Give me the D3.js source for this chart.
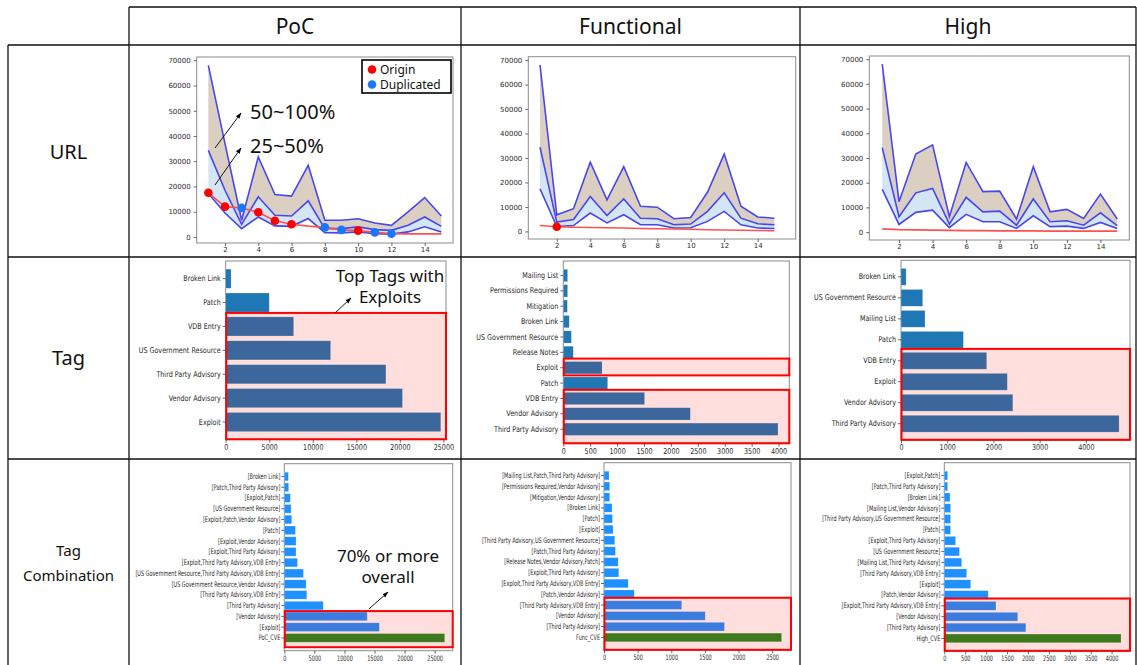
<!DOCTYPE html>
<html><head><meta charset="utf-8">
<script src="https://cdn.jsdelivr.net/npm/d3@7"></script>
<style>body{margin:0;background:#fff;}svg{display:block;}</style>
</head><body>
<svg id="c" width="1137" height="665"></svg>
<script>
// ---------------- DATA ----------------
const colTitles = ["PoC", "Functional", "High"];
const rowTitles = [["URL"], ["Tag"], ["Tag", "Combination"]];

const urlX = [1,2,3,4,5,6,7,8,9,10,11,12,13,14,15];
const urlYTicks = [0,10000,20000,30000,40000,50000,60000,70000];
const urlXTicks = [2,4,6,8,10,12,14];

const pocTop    = [68000,37000,6600,31700,16800,16200,28400,6600,6600,7200,5500,4600,9900,15600,8300];
const pocMid    = [34300,18500,5000,15900,8600,8300,14300,3300,3300,4000,2900,2600,4600,7900,4200];
const pocLow    = [17200,9500,3300,7900,4400,4200,7300,1700,1600,2000,1300,1100,2000,4000,2000];
const pocOrigin = [17500,12000,11500,9800,6400,5000,4300,3800,2800,2500,1800,1300,1200,1200,1200];
const pocOriginDots = [1,2,4,5,6,10];
const pocDupDots    = [3,8,9,11,12];

const funcTop    = [68000,6800,9300,28300,12900,26500,10300,9900,5200,5700,16000,31600,10300,5900,5400];
const funcMid    = [34400,3800,4900,14300,6500,13300,5400,5200,2700,3000,8200,15800,5400,3100,2700];
const funcLow    = [17400,2000,2400,7500,3500,6800,2700,2700,1400,1500,4100,8200,2700,1400,1200];
const funcOrigin = [2400,1900,1700,1600,1500,1400,1200,1100,1000,900,700,600,500,400,300];
const funcOriginDots = [2];
const funcDupDots    = [];

const highTop    = [68000,12300,31600,35300,6200,28200,16400,16600,5300,26500,8200,9200,5500,15400,5300];
const highMid    = [34200,6200,15900,17700,3200,14100,8200,8500,2800,13400,4200,4600,2800,7800,2600];
const highLow    = [17300,3100,8000,8900,1800,7200,4200,4200,1500,6600,2200,2400,1500,3900,1500];
const highOrigin = [1300,1000,900,800,700,600,600,500,500,500,400,400,400,400,400];
const highOriginDots = [];
const highDupDots    = [];

const pocTagNames  = ["Broken Link","Patch","VDB Entry","US Government Resource","Third Party Advisory","Vendor Advisory","Exploit"];
const pocTagValues = [620,5000,7800,12050,18400,20300,24700];
const pocTagTicks  = [0,5000,10000,15000,20000,25000];

const funcTagNames  = ["Mailing List","Permissions Required","Mitigation","Broken Link","US Government Resource","Release Notes","Exploit","Patch","VDB Entry","Vendor Advisory","Third Party Advisory"];
const funcTagValues = [80,80,75,110,150,185,720,825,1510,2360,3990];
const funcTagTicks  = [0,500,1000,1500,2000,2500,3000,3500,4000];

const highTagNames  = ["Broken Link","US Government Resource","Mailing List","Patch","VDB Entry","Exploit","Vendor Advisory","Third Party Advisory"];
const highTagValues = [110,470,520,1350,1855,2300,2420,4720];
const highTagTicks  = [0,1000,2000,3000,4000];

const pocCombNames = ["[Broken Link]","[Patch,Third Party Advisory]","[Exploit,Patch]","[US Government Resource]","[Exploit,Patch,Vendor Advisory]","[Patch]","[Exploit,Vendor Advisory]","[Exploit,Third Party Advisory]","[Exploit,Third Party Advisory,VDB Entry]","[US Government Resource,Third Party Advisory,VDB Entry]","[US Government Resource,Vendor Advisory]","[Third Party Advisory,VDB Entry]","[Third Party Advisory]","[Vendor Advisory]","[Exploit]","PoC_CVE"];
const pocCombValues = [670,725,1000,1120,1230,1840,1950,1950,2180,3180,3630,3740,6470,13780,15790,26670];
const pocCombTicks  = [0,5000,10000,15000,20000,25000];

const funcCombNames = ["[Mailing List,Patch,Third Party Advisory]","[Permissions Required,Vendor Advisory]","[Mitigation,Vendor Advisory]","[Broken Link]","[Patch]","[Exploit]","[Third Party Advisory,US Government Resource]","[Patch,Third Party Advisory]","[Release Notes,Vendor Advisory,Patch]","[Exploit,Third Party Advisory]","[Exploit,Third Party Advisory,VDB Entry]","[Patch,Vendor Advisory]","[Third Party Advisory,VDB Entry]","[Vendor Advisory]","[Third Party Advisory]","Func_CVE"];
const funcCombValues = [75,85,85,120,125,135,160,170,210,220,360,450,1155,1505,1790,2640];
const funcCombTicks  = [0,500,1000,1500,2000,2500];

const highCombNames = ["[Exploit,Patch]","[Patch,Third Party Advisory]","[Broken Link]","[Mailing List,Vendor Advisory]","[Third Party Advisory,US Government Resource]","[Patch]","[Exploit,Third Party Advisory]","[US Government Resource]","[Mailing List,Third Party Advisory]","[Third Party Advisory,VDB Entry]","[Exploit]","[Patch,Vendor Advisory]","[Exploit,Third Party Advisory,VDB Entry]","[Vendor Advisory]","[Third Party Advisory]","High_CVE"];
const highCombValues = [80,80,135,150,150,150,270,360,415,535,630,1050,1235,1755,1950,4225];
const highCombTicks  = [0,500,1000,1500,2000,2500,3000,3500,4000];

const legendLabels = ["Origin", "Duplicated"];

// ---------------- LAYOUT / STYLE ----------------
const UI = "'Noto Sans','Open Sans',sans-serif";
const MPL = "'DejaVu Sans',sans-serif";
const svg = d3.select("#c");
const defs = svg.append("defs");
defs.append("marker").attr("id","ah").attr("viewBox","0 0 10 10")
  .attr("refX",9).attr("refY",5).attr("markerWidth",7).attr("markerHeight",7)
  .attr("orient","auto").append("path").attr("d","M0,1.5L10,5L0,8.5Z").attr("fill","#000");

const FR = {
  u1:{x0:196.7,x1:453,y0:57,y1:243}, u2:{x0:528.3,x1:795.7,y0:56.7,y1:239}, u3:{x0:869.3,x1:1129.3,y0:56,y1:240},
  t1:{x0:225.7,x1:446,y0:261,y1:439.7}, t2:{x0:563.3,x1:789.3,y0:261,y1:443.7}, t3:{x0:901,x1:1130,y0:260.3,y1:440.3},
  c1:{x0:284.3,x1:452.7,y0:463.7,y1:650.7}, c2:{x0:604,x1:791,y0:462.7,y1:650.3}, c3:{x0:944.3,x1:1130,y0:462.7,y1:651.3}
};

function styleAxis(g, fs, sx) {
  g.select(".domain").remove();
  g.selectAll(".tick line").attr("stroke","#444").attr("stroke-width",0.8);
  g.selectAll(".tick text").attr("fill","#2a2a2a").attr("font-family",MPL).attr("font-size",fs);
  if (sx !== 1) {
    g.selectAll(".tick text").each(function(){
      const t = d3.select(this);
      const xx = +t.attr("x") || 0;
      t.attr("x", xx/sx).attr("transform", `scale(${sx},1)`);
    });
  }
}
function frame(g, f) {
  g.append("rect").attr("x",f.x0).attr("y",f.y0).attr("width",f.x1-f.x0).attr("height",f.y1-f.y0)
    .attr("fill","none").attr("stroke","#8c8c8c").attr("stroke-width",1);
}

function urlPanel(f, top, mid, low, origin, oDots, dDots, xDom, yDom) {
  const x = d3.scaleLinear().domain(xDom).range([f.x0,f.x1]);
  const y = d3.scaleLinear().domain(yDom).range([f.y1,f.y0]);
  const g = svg.append("g");
  const aTop = d3.area().x((d,i)=>x(urlX[i])).y0((d,i)=>y(mid[i])).y1(d=>y(d));
  const aMid = d3.area().x((d,i)=>x(urlX[i])).y0((d,i)=>y(low[i])).y1(d=>y(d));
  g.append("path").datum(top).attr("d",aTop).attr("fill","#dbcfc2");
  g.append("path").datum(mid).attr("d",aMid).attr("fill","#d4e5f6");
  const ln = d3.line().x((d,i)=>x(urlX[i])).y(d=>y(d));
  [top,mid,low].forEach(s=>g.append("path").datum(s).attr("d",ln).attr("fill","none")
     .attr("stroke","#4747ee").attr("stroke-width",1.6));
  g.append("path").datum(origin).attr("d",ln).attr("fill","none").attr("stroke","#ff5050").attr("stroke-width",1.6);
  oDots.forEach(v=>g.append("circle").attr("cx",x(v)).attr("cy",y(origin[urlX.indexOf(v)])).attr("r",4.3).attr("fill","#ff0000"));
  dDots.forEach(v=>g.append("circle").attr("cx",x(v)).attr("cy",y(origin[urlX.indexOf(v)])).attr("r",4.3).attr("fill","#1a75ff"));
  frame(g,f);
  const ay = g.append("g").attr("transform",`translate(${f.x0},0)`)
    .call(d3.axisLeft(y).tickValues(urlYTicks).tickSize(3).tickPadding(3).tickFormat(d3.format("d")));
  styleAxis(ay,7,1);
  const ax = g.append("g").attr("transform",`translate(0,${f.y1})`)
    .call(d3.axisBottom(x).tickValues(urlXTicks).tickSize(3).tickPadding(1.5).tickFormat(d3.format("d")));
  styleAxis(ax,7,1);
  return {g,x,y};
}

function barPanel(f, names, values, ticks, xMax, boxes, fs, sx, tickPad, combo) {
  const n = names.length;
  const y = d3.scaleBand().domain(names).range([f.y0,f.y1]).paddingInner(0.2).paddingOuter(0.05*n-0.01);
  const x = d3.scaleLinear().domain([0,xMax]).range([f.x0,f.x1]);
  const g = svg.append("g");
  g.append("rect").attr("x",f.x0).attr("y",f.y0).attr("width",f.x1-f.x0).attr("height",f.y1-f.y0)
    .attr("fill","none").attr("stroke","#8c8c8c").attr("stroke-width",1);
  names.forEach((nm,i)=>{
    let col = combo ? "#1e90ff" : "#1f77b4";
    if (/_CVE$/.test(nm)) col = "#228b22";
    g.append("rect").attr("x",x(0)).attr("y",y(nm)).attr("width",x(values[i])-x(0)).attr("height",y.bandwidth())
      .attr("fill",col).attr("stroke","#ffffff").attr("stroke-opacity",0.35).attr("stroke-width",0.6);
  });
  boxes.forEach(b=>{
    const top = y(b[0]) - b[2];
    const last = names.indexOf(b[1]) === n-1;
    const bot = last ? f.y1 - b[3] : y(b[1]) + y.bandwidth() + b[3];
    g.append("rect").attr("x",f.x0+0.5).attr("y",top).attr("width",f.x1-f.x0-0.5).attr("height",bot-top)
      .attr("fill","rgba(255,0,0,0.13)").attr("stroke","#ff0000").attr("stroke-width",2);
  });
  const ay = g.append("g").attr("transform",`translate(${f.x0},0)`)
    .call(d3.axisLeft(y).tickSize(3).tickPadding(tickPad));
  styleAxis(ay,fs,sx);
  const ax = g.append("g").attr("transform",`translate(0,${f.y1})`)
    .call(d3.axisBottom(x).tickValues(ticks).tickSize(3).tickPadding(1.5).tickFormat(d3.format("d")));
  styleAxis(ax,fs,sx);
  return g;
}

// ---------------- TABLE GRID ----------------
const grid = svg.append("g").attr("stroke","#111").attr("stroke-width",1.3).attr("fill","none");
[[129,7,1136,7],[8,45,1136,45],[8,257,1136,257],[8,459,1136,459],
 [8,45,8,665],[129,7,129,665],[461,7,461,665],[800,7,800,665],[1136,7,1136,665]]
 .forEach(l=>grid.append("line").attr("x1",l[0]).attr("y1",l[1]).attr("x2",l[2]).attr("y2",l[3]));

const colCenters = [295, 630.5, 968];
colTitles.forEach((t,i)=>svg.append("text").attr("x",colCenters[i]).attr("y",34).attr("text-anchor","middle")
  .attr("font-family",UI).attr("font-size",21).attr("fill","#111").text(t));
svg.append("text").attr("x",68.5).attr("y",159).attr("text-anchor","middle").attr("font-family",UI).attr("font-size",20).attr("fill","#111").text(rowTitles[0][0]);
svg.append("text").attr("x",68.5).attr("y",365).attr("text-anchor","middle").attr("font-family",UI).attr("font-size",20).attr("fill","#111").text(rowTitles[1][0]);
rowTitles[2].forEach((t,i)=>svg.append("text").attr("x",68.5).attr("y",556+i*25).attr("text-anchor","middle")
  .attr("font-family",UI).attr("font-size",15).attr("fill","#111").text(t));

// ---------------- URL ROW ----------------
urlPanel(FR.u1,pocTop,pocMid,pocLow,pocOrigin,pocOriginDots,pocDupDots,[0.3,15.7],[-2400,71300]);
urlPanel(FR.u2,funcTop,funcMid,funcLow,funcOrigin,funcOriginDots,funcDupDots,[0.3,16.27],[-3100,71400]);
urlPanel(FR.u3,highTop,highMid,highLow,highOrigin,highOriginDots,highDupDots,[0.23,15.72],[-3200,71300]);

// legend
const lg = svg.append("g");
lg.append("rect").attr("x",362).attr("y",60).attr("width",89).attr("height",33).attr("fill","#fff").attr("stroke","#000").attr("stroke-width",1.6);
lg.append("circle").attr("cx",372).attr("cy",69.5).attr("r",4.3).attr("fill","#ff0000");
lg.append("circle").attr("cx",372).attr("cy",84.5).attr("r",4.3).attr("fill","#1a75ff");
legendLabels.forEach((t,i)=>lg.append("text").attr("x",380).attr("y",73.5+i*15.5).attr("font-family",UI).attr("font-size",12).attr("fill","#111").text(t));

// annotations in URL PoC
function arrow(x1,y1,x2,y2){
  svg.append("line").attr("x1",x1).attr("y1",y1).attr("x2",x2).attr("y2",y2)
    .attr("stroke","#000").attr("stroke-width",0.9).attr("marker-end","url(#ah)");
}
svg.append("text").attr("x",250).attr("y",119).attr("font-family",UI).attr("font-size",20).attr("fill","#111").text("50~100%");
svg.append("text").attr("x",250).attr("y",153).attr("font-family",UI).attr("font-size",20).attr("fill","#111").text("25~50%");
arrow(215,148,241,113);
arrow(215,185,241,148);

// ---------------- TAG ROW ----------------
barPanel(FR.t1,pocTagNames,pocTagValues,pocTagTicks,25300,[["VDB Entry","Exploit",4,0.5]],8,0.8,2,false);
barPanel(FR.t2,funcTagNames,funcTagValues,funcTagTicks,4200,[["Exploit","Exploit",3,1.5],["VDB Entry","Third Party Advisory",2.5,0.5]],8,0.8,2,false);
barPanel(FR.t3,highTagNames,highTagValues,highTagTicks,4956,[["VDB Entry","Third Party Advisory",3.5,0.5]],8,0.8,2,false);

svg.append("text").attr("x",390).attr("y",282).attr("text-anchor","middle").attr("font-family",UI).attr("font-size",17).attr("fill","#111").text("Top Tags with");
svg.append("text").attr("x",390).attr("y",303).attr("text-anchor","middle").attr("font-family",UI).attr("font-size",17).attr("fill","#111").text("Exploits");
arrow(335,313,351,298);

// ---------------- TAG COMBINATION ROW ----------------
barPanel(FR.c1,pocCombNames,pocCombValues,pocCombTicks,28000,[["[Vendor Advisory]","PoC_CVE",1,3.5]],7.6,0.65,1,true);
barPanel(FR.c2,funcCombNames,funcCombValues,funcCombTicks,2780,[["[Third Party Advisory,VDB Entry]","Func_CVE",3,0.5]],7.6,0.65,1,true);
barPanel(FR.c3,highCombNames,highCombValues,highCombTicks,4440,[["[Exploit,Third Party Advisory,VDB Entry]","High_CVE",3,0.5]],7.6,0.65,1,true);

svg.append("text").attr("x",388).attr("y",562).attr("text-anchor","middle").attr("font-family",UI).attr("font-size",17).attr("fill","#111").text("70% or more");
svg.append("text").attr("x",388).attr("y",583).attr("text-anchor","middle").attr("font-family",UI).attr("font-size",17).attr("fill","#111").text("overall");
arrow(369,609,388,592);
</script>
</body></html>
